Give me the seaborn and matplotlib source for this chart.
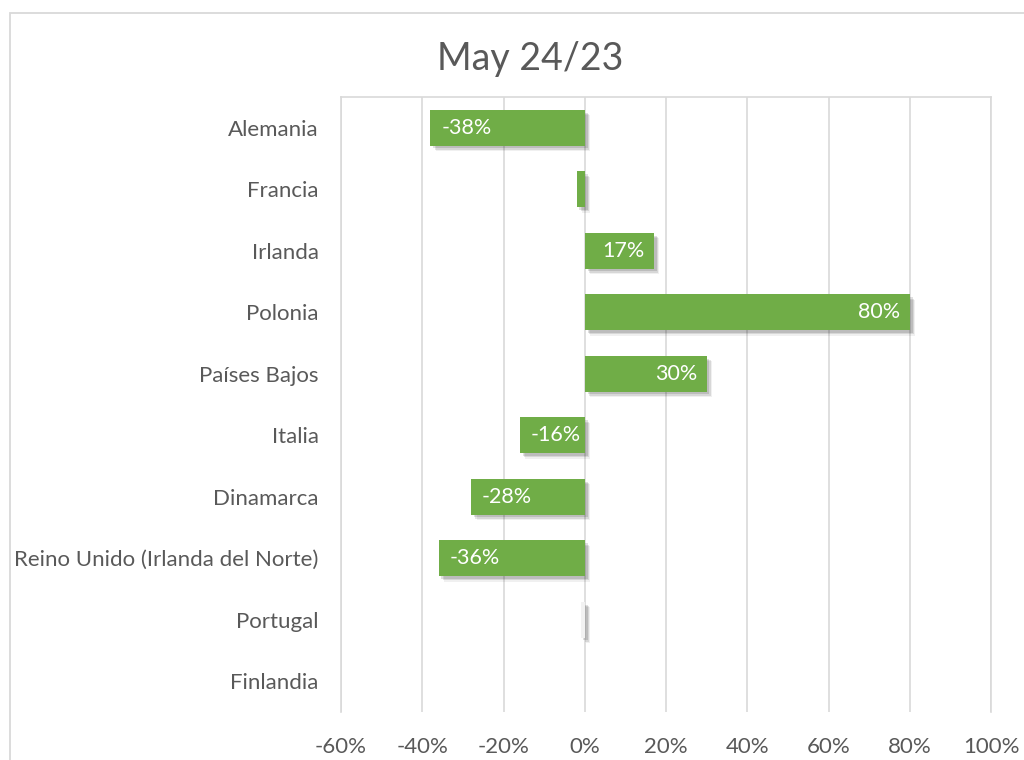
import matplotlib
matplotlib.use("Agg")
import matplotlib.pyplot as plt
import matplotlib.patheffects as pe
from matplotlib.patches import Rectangle
from matplotlib.ticker import FuncFormatter, MultipleLocator
import seaborn as sns
import pandas as pd

# Data
countries = ["Alemania", "Francia", "Irlanda", "Polonia", "Países Bajos", "Italia",
             "Dinamarca", "Reino Unido (Irlanda del Norte)", "Portugal", "Finlandia"]
changes = [-0.38, -0.02, 0.17, 0.80, 0.30, -0.16, -0.28, -0.36, -0.01, 0.0]
bar_colors = ["#70AD47", "#70AD47", "#70AD47", "#70AD47", "#70AD47", "#70AD47",
              "#70AD47", "#70AD47", "#F2F2F2", "#70AD47"]
title = "May 24/23"

sns.set_theme(style="white")
plt.rcParams["font.family"] = ["Lato", "DejaVu Sans"]

df = pd.DataFrame({"country": countries, "change": changes})

fig = plt.figure(figsize=(10.24, 7.6), dpi=100)
ax = fig.add_axes([341 / 1024, 1 - 712 / 760, 650 / 1024, 615 / 760])

# Outer chart frame
fig.patches.append(Rectangle((10 / 1024, -0.05), 1.2, 1 - 13 / 760 + 0.05,
                             transform=fig.transFigure, fill=False,
                             edgecolor="#D9D9D9", linewidth=1.3, zorder=0))

sns.barplot(data=df, x="change", y="country", hue="country", palette=bar_colors,
            saturation=1, legend=False, width=0.58, orient="h", ax=ax, zorder=3,
            linewidth=0)

for p in ax.patches:
    p.set_path_effects([
        pe.SimplePatchShadow(offset=(4, -4), shadow_rgbFace="#000000", alpha=0.06),
        pe.SimplePatchShadow(offset=(3, -3), shadow_rgbFace="#000000", alpha=0.10),
        pe.SimplePatchShadow(offset=(2, -2), shadow_rgbFace="#000000", alpha=0.12),
        pe.Normal(),
    ])

ax.set_xlim(-0.6, 1.0)
ax.set_ylim(len(countries) - 0.5, -0.5)
ax.xaxis.set_major_locator(MultipleLocator(0.2))
ax.xaxis.set_major_formatter(FuncFormatter(lambda v, _: f"{v * 100:.0f}%"))
ax.grid(axis="x", color="#D9D9D9", linewidth=1.2, zorder=0)
ax.grid(axis="y", visible=False)
ax.set_axisbelow(True)

for side in ["top", "left", "right"]:
    ax.spines[side].set_color("#D9D9D9")
    ax.spines[side].set_linewidth(1.2)
ax.spines["bottom"].set_visible(False)

ax.set_xlabel("")
ax.set_ylabel("")
ax.tick_params(axis="both", length=0, labelsize=16, labelcolor="#595959")
ax.tick_params(axis="x", pad=18)
ax.tick_params(axis="y", pad=16)

# Value labels inside the bar ends
for i, v in enumerate(changes):
    if abs(v) < 0.05:
        continue
    if v < 0:
        ax.annotate(f"{v * 100:.0f}%", xy=(v, i), xytext=(8, 0), textcoords="offset points",
                    ha="left", va="center", color="white", fontsize=15.5, zorder=5)
    else:
        ax.annotate(f"{v * 100:.0f}%", xy=(v, i), xytext=(-7, 0), textcoords="offset points",
                    ha="right", va="center", color="white", fontsize=15.5, zorder=5)

fig.text(530 / 1024, 1 - 59 / 760, title, ha="center", va="center",
         fontsize=27, color="#595959")

fig.savefig("out.png", dpi=100)
